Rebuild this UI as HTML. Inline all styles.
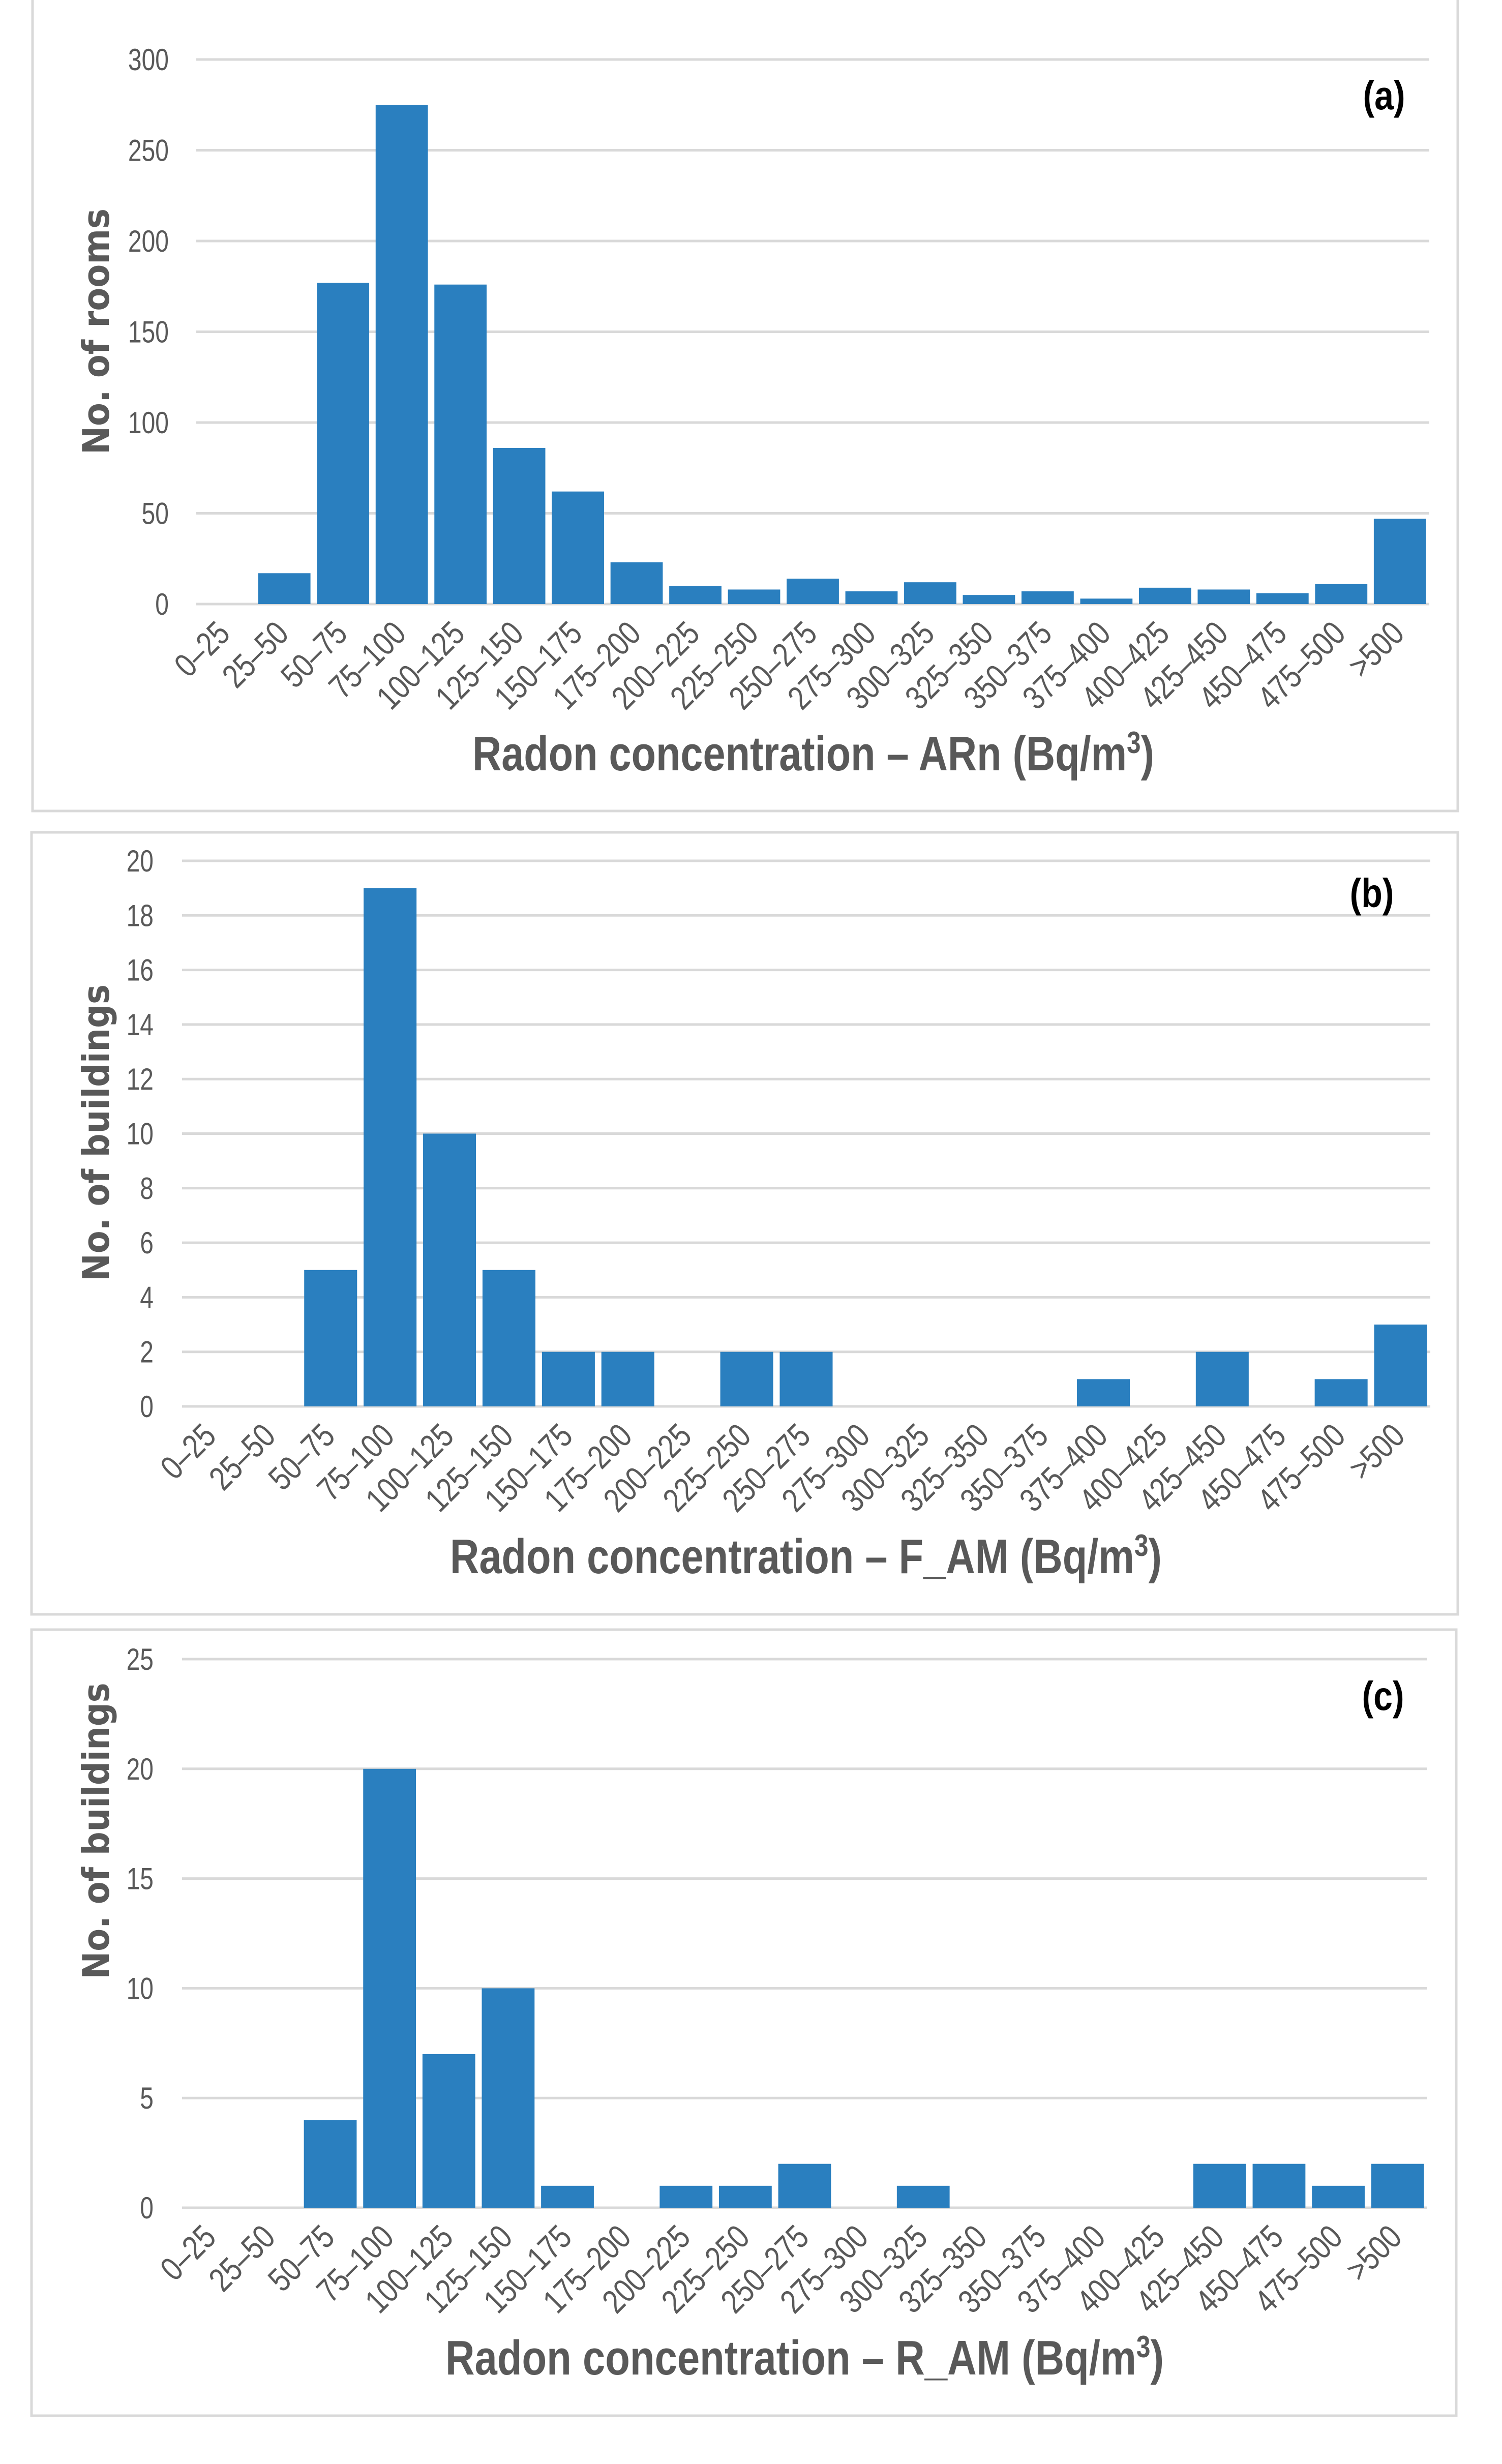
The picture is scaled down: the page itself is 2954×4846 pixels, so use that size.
<!DOCTYPE html>
<html><head><meta charset="utf-8">
<style>
html,body{margin:0;padding:0;background:#fff;}
svg{display:block;}
</style></head>
<body>
<svg id="chart" xmlns="http://www.w3.org/2000/svg" width="2954" height="4846" viewBox="0 0 2954 4846">
<rect x="0" y="0" width="2954" height="4846" fill="#ffffff"/>
</svg>
<script>
const categories = ["0–25","25–50","50–75","75–100","100–125","125–150","150–175","175–200","200–225","225–250","250–275","275–300","300–325","325–350","350–375","375–400","400–425","425–450","450–475","475–500",">500"];
const seriesA = [0,17,177,275,176,86,62,23,10,8,14,7,12,5,7,3,9,8,6,11,47];
const seriesB = [0,0,5,19,10,5,2,2,0,2,2,0,0,0,0,1,0,2,0,1,3];
const seriesC = [0,0,4,20,7,10,1,0,1,1,2,0,1,0,0,0,0,2,2,1,2];
const ticksA = [0,50,100,150,200,250,300];
const ticksB = [0,2,4,6,8,10,12,14,16,18,20];
const ticksC = [0,5,10,15,20,25];
const titlesY = ["No. of rooms","No. of buildings","No. of buildings"];
const titlesX = ["ARn","F_AM","R_AM"];
const panelLabels = ["(a)","(b)","(c)"];

const NS = "http://www.w3.org/2000/svg";
const svg = document.getElementById('chart');
function mk(tag, attrs, parent){
  const e = document.createElementNS(NS, tag);
  for (const k in attrs) e.setAttribute(k, attrs[k]);
  (parent||svg).appendChild(e);
  return e;
}

const panels = [
  {key:'a', data:seriesA, ticks:ticksA, box:[64,-10,2867,1595], x0:386, x1:2811, yTop:117, yZero:1188, tickRight:332, ylabY:652, ylabLen:484, xtY:1483, xtX0:929, xtX1:2270, plX:2722, plY:189},
  {key:'b', data:seriesB, ticks:ticksB, box:[62,1637,2867,3175], x0:358, x1:2813, yTop:1693, yZero:2766, tickRight:302, ylabY:2228, ylabLen:584, xtY:3062, xtX0:885, xtX1:2285, plX:2698, plY:1758},
  {key:'c', data:seriesC, ticks:ticksC, box:[62,3205,2864,4751], x0:358, x1:2807, yTop:3263, yZero:4342, tickRight:302, ylabY:3601, ylabLen:583, xtY:4638, xtX0:876, xtX1:2289, plX:2720, plY:3337}
];

panels.forEach((p, pi) => {
  const g = mk('g', {});
  
  
  const bx = mk('rect', {x:p.box[0], y:p.box[1], width:p.box[2]-p.box[0], height:p.box[3]-p.box[1], fill:'#fff', stroke:'#d9d9d9', 'stroke-width':5}, g);
  
  

  const maxT = p.ticks[p.ticks.length-1];
  const yScale = v => p.yZero - (v / maxT) * (p.yZero - p.yTop);
  const step = (p.x1 - p.x0) / categories.length;
  const xScale = i => p.x0 + i * step;

  p.ticks.forEach(t => {
    const y = yScale(t);
    const gl = mk('line', {x1:p.x0, x2:p.x1, y1:y, y2:y, stroke:'#d9d9d9', 'stroke-width':5}, g);
    
    
    const tl = mk('text', {x:0, y:0, transform:'translate('+p.tickRight+' '+(y+21)+') scale(0.8 1)', 'text-anchor':'end', 'font-family':'Liberation Sans, sans-serif', 'font-size':60, fill:'#595959'}, g);
    tl.textContent = t;
    
    
  });

  p.data.forEach((v, i) => {
    const gap = step * 0.055;
    const x = xScale(i) + gap;
    const w = step - 2*gap;
    const y = yScale(v);
    if (v > 0) {
      const b = mk('rect', {x:x, y:y, width:w, height:p.yZero - y, fill:'#2a7fbf'}, g);
      
      
    }
    const cx = xScale(i) + step/2 + 12;
    const ty = p.yZero + 62;
    const xl = mk('text', {x:0, y:0, 'text-anchor':'end', transform:'translate('+cx+' '+ty+') rotate(-45) scale(0.82 1)', 'font-family':'Liberation Sans, sans-serif', 'font-size':66, fill:'#595959'}, g);
    xl.textContent = categories[i];
    
    
  });

  const yt = mk('text', {x:0, y:0, transform:'translate(214 '+p.ylabY+') rotate(-90)', 'text-anchor':'middle', 'font-family':'DejaVu Sans, sans-serif', 'font-weight':'bold', 'font-size':72, fill:'#595959', textLength:p.ylabLen, lengthAdjust:'spacingAndGlyphs'}, g);
  yt.textContent = titlesY[pi];
  
  

  const xt = mk('text', {x:p.xtX0, y:p.xtY+32, 'font-family':'Liberation Sans, sans-serif', 'font-weight':'bold', 'font-size':96, fill:'#595959', textLength:p.xtX1-p.xtX0, lengthAdjust:'spacingAndGlyphs'}, g);
  xt.textContent = 'Radon concentration – ' + titlesX[pi] + ' (Bq/m';
  const sup = mk('tspan', {dy:-34, 'font-size':60}, xt);
  sup.textContent = '3';
  const cl = mk('tspan', {dy:34}, xt);
  cl.textContent = ')';
  
  

  const pl = mk('text', {x:0, y:0, transform:'translate('+p.plX+' '+(p.plY+26)+') scale(0.85 1)', 'text-anchor':'middle', 'font-family':'Liberation Sans, sans-serif', 'font-weight':'bold', 'font-size':80, fill:'#000'}, g);
  pl.textContent = panelLabels[pi];
  
  
});
</script>
</body></html>
